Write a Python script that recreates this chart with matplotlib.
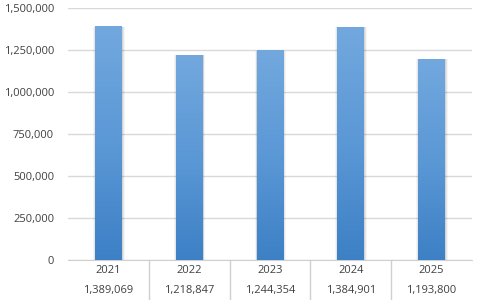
import numpy as np
import matplotlib.pyplot as plt
from matplotlib.colors import LinearSegmentedColormap
from matplotlib.ticker import FuncFormatter

years = ['2021', '2022', '2023', '2024', '2025']
values = [1389069, 1218847, 1244354, 1384901, 1193800]

plt.rcParams['font.family'] = ['Open Sans', 'DejaVu Sans']

fig = plt.figure(figsize=(4.8, 3.0), dpi=100)
ax = fig.add_axes([68/480, 1-260/300, 404/480, 252/300])

cmap = LinearSegmentedColormap.from_list('bar', ['#3d80c5', '#5b98d6', '#72a8de'])
grad = np.linspace(0, 1, 256).reshape(-1, 1)
x = np.arange(len(years))
w = 0.33
for xi, v in zip(x, values):
    # soft shadow
    for k, a in [(0.06, 0.04), (0.035, 0.06), (0.015, 0.08)]:
        ax.bar(xi + 0.005, v, width=w + k, color='black', alpha=a, zorder=2, linewidth=0)
    ax.imshow(grad, cmap=cmap, aspect='auto', origin='lower',
              extent=[xi - w/2, xi + w/2, 0, v], zorder=3)

ax.set_xlim(-0.5, len(years) - 0.5)
ax.set_ylim(0, 1500000)
ax.set_yticks(np.arange(0, 1500001, 250000))
ax.yaxis.set_major_formatter(FuncFormatter(lambda v, p: f'{int(v):,}'))
ax.yaxis.grid(True, color='#d9d9d9', linewidth=1)
ax.set_axisbelow(True)
for s in ['top', 'right', 'left']:
    ax.spines[s].set_visible(False)
ax.spines['bottom'].set_color('#d0d0d0')
ax.tick_params(axis='y', length=0, pad=10, labelsize=8, labelcolor='#404040')
ax.set_xticks([])

# data table under the axis
for i, (yr, v) in enumerate(zip(years, values)):
    ax.text(i, -0.04, yr, transform=ax.get_xaxis_transform(), ha='center', va='center',
            fontsize=8, color='#404040')
    ax.text(i, -0.12, f'{v:,}', transform=ax.get_xaxis_transform(), ha='center', va='center',
            fontsize=8, color='#404040')
for i in range(1, len(years)):
    ax.plot([i - 0.5, i - 0.5], [0, -0.16], transform=ax.get_xaxis_transform(),
            color='#d0d0d0', linewidth=1, clip_on=False)

fig.savefig('out.png', dpi=100)
